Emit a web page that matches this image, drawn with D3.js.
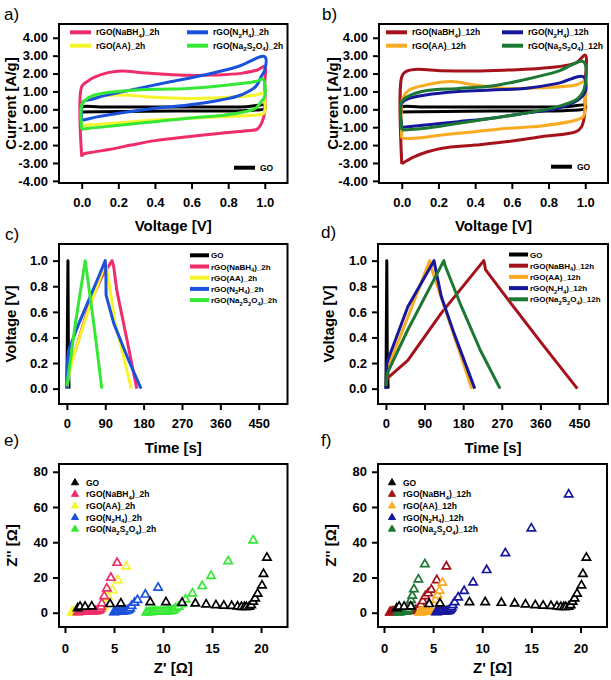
<!DOCTYPE html>
<html><head><meta charset="utf-8">
<script src="https://cdn.jsdelivr.net/npm/d3@7"></script>
<style>
body{margin:0;background:#fff}
svg{display:block}
text{font-family:"Liberation Sans",Arial,Helvetica,sans-serif}
</style>
</head><body>
<svg id="fig" width="611" height="680"></svg>
<script>
// ---------------- DATA ----------------
const labels2h  = ["GO","rGO(NaBH{4})_2h","rGO(AA)_2h","rGO(N{2}H{4})_2h","rGO(Na{2}S{2}O{4})_2h"];
const labels12h = ["GO","rGO(NaBH{4})_12h","rGO(AA)_12h","rGO(N{2}H{4})_12h","rGO(Na{2}S{2}O{4})_12h"];
const colors2h  = ["#000000","#ef2d68","#f6f52c","#1b52dc","#36e836"];
const colors12h = ["#000000","#a5121b","#f9ab22","#17179e","#1c7833"];

const cvTicksX = [0,0.2,0.4,0.6,0.8,1.0];
const cvTicksY = [-4,-3,-2,-1,0,1,2,3,4];
const gcdTicksX = [0,90,180,270,360,450];
const gcdTicksY = [0,0.2,0.4,0.6,0.8,1.0];
const eisTicksX = [0,5,10,15,20];
const eisTicksY = [0,20,40,60,80];

// CV loops [V, I]
const cvGO = [[0,-0.15],[0,0.12],[0.1,0.13],[0.5,0.13],[0.9,0.15],[1.0,0.22],[1.0,0.05],[0.9,-0.06],[0.5,-0.1],[0.1,-0.14],[0,-0.15]];
const cvNaBH4_2h = [[0,-2.64],[0,1.27],[0.03,1.55],[0.07,1.8],[0.145,2.05],[0.22,2.14],[0.33,2.05],[0.45,1.96],[0.58,1.9],[0.73,1.92],[0.87,2.01],[0.96,2.2],[1.0,2.4],[1.0,1.5],[0.995,-0.4],[0.96,-1.1],[0.9,-1.2],[0.76,-1.34],[0.58,-1.53],[0.4,-1.75],[0.27,-2.0],[0.15,-2.25],[0.07,-2.38],[0.01,-2.5],[0,-2.64]];
const cvAA_2h = [[0,-0.93],[0,0.15],[0.01,0.43],[0.07,0.71],[0.22,0.8],[0.4,0.67],[0.58,0.61],[0.76,0.65],[0.95,0.8],[0.99,0.89],[1.0,0.5],[0.995,-0.22],[0.95,-0.32],[0.76,-0.41],[0.58,-0.5],[0.4,-0.6],[0.22,-0.74],[0.04,-0.88],[0,-0.93]];
const cvN2H4_2h = [[0,-0.6],[0,0.2],[0.01,0.45],[0.05,0.55],[0.13,0.78],[0.31,1.17],[0.49,1.55],[0.67,1.92],[0.85,2.38],[1.0,2.94],[1.0,2.2],[0.98,1.82],[0.95,1.27],[0.87,0.8],[0.76,0.52],[0.58,0.24],[0.4,0.06],[0.22,-0.19],[0.09,-0.41],[0.01,-0.6],[0,-0.6]];
const cvNa2S2O4_2h = [[0,-1.12],[0,0.24],[0.02,0.52],[0.07,0.8],[0.22,1.02],[0.4,1.12],[0.58,1.17],[0.76,1.32],[0.95,1.55],[0.99,1.68],[1.0,0.71],[0.98,0.43],[0.95,0.06],[0.85,-0.22],[0.76,-0.35],[0.58,-0.5],[0.4,-0.69],[0.22,-0.88],[0.04,-1.06],[0,-1.12]];
const cvNaBH4_12h = [[0,-3.05],[0,1.82],[0.02,2.1],[0.07,2.23],[0.22,2.16],[0.4,2.14],[0.58,2.2],[0.76,2.29],[0.95,2.6],[1.0,3.03],[1.0,1.5],[0.995,-0.41],[0.98,-0.97],[0.95,-1.25],[0.76,-1.53],[0.58,-1.8],[0.4,-2.0],[0.22,-2.18],[0.07,-2.64],[0,-3.05]];
const cvAA_12h = [[0,-1.62],[0,0.4],[0.01,0.71],[0.04,1.08],[0.13,1.36],[0.27,1.55],[0.4,1.36],[0.58,1.17],[0.76,1.21],[0.95,1.36],[1.0,1.55],[1.0,0.5],[0.99,-0.4],[0.95,-0.6],[0.76,-0.93],[0.58,-1.06],[0.4,-1.25],[0.22,-1.43],[0.07,-1.62],[0,-1.62]];
const cvN2H4_12h = [[0,-1.0],[0,0.34],[0.04,0.61],[0.13,0.8],[0.31,0.99],[0.49,1.08],[0.67,1.17],[0.85,1.45],[0.99,1.82],[1.0,0.99],[0.96,0.52],[0.85,0.06],[0.67,-0.22],[0.49,-0.5],[0.31,-0.69],[0.13,-0.88],[0.01,-1.0],[0,-1.0]];
const cvNa2S2O4_12h = [[0,-1.15],[0,0.43],[0.04,0.75],[0.13,1.04],[0.31,1.17],[0.49,1.3],[0.67,1.66],[0.85,2.12],[0.99,2.66],[1.0,1.36],[0.96,0.61],[0.85,0.15],[0.67,-0.22],[0.49,-0.5],[0.31,-0.78],[0.13,-1.06],[0.01,-1.15],[0,-1.15]];

// GCD [t (s), V]
const gcdGO_2h = [[0,0],[2.5,1.0],[3.5,0.3],[5,0]];
const gcdNaBH4_2h = [[0,0.04],[5,0.17],[20,0.3],[51,0.64],[82,0.875],[106,1.0],[110,0.95],[117,0.77],[141,0.38],[164,0]];
const gcdAA_2h = [[0,0],[5,0.12],[20,0.3],[51,0.62],[82,0.9],[90,1.0],[94,0.92],[98,0.85],[113,0.51],[133,0.25],[151,0]];
const gcdN2H4_2h = [[0,0],[1,0.2],[4,0.3],[27,0.5],[51,0.69],[74,0.87],[90,1.0],[91.5,0.9],[92,0.73],[110,0.51],[145,0.22],[174,0]];
const gcdNa2S2O4_2h = [[0,0.02],[4,0.12],[20,0.51],[43,1.0],[63,0.51],[82,0]];
const gcdGO_12h = [[0,0],[2,1.0],[3,0.3],[5,0]];
const gcdNaBH4_12h = [[0,0.03],[3,0.08],[51,0.22],[129,0.59],[228,1.0],[230,0.97],[232,0.93],[286,0.69],[364,0.35],[446,0]];
const gcdAA_12h = [[0,0.02],[3,0.15],[50,0.55],[102,1.0],[105,0.95],[150,0.5],[200,0]];
const gcdN2H4_12h = [[0,0],[2,0.2],[51,0.64],[112,1.0],[116,0.93],[129,0.72],[160,0.42],[207,0]];
const gcdNa2S2O4_12h = [[0,0.02],[3,0.12],[51,0.46],[135,1.0],[138,0.96],[176,0.64],[220,0.3],[266,0]];

// EIS [Z', Z'']
const eisGO = [[1.3,2.5],[1.54,3.4],[2.05,3.4],[2.73,3.6],[4.6,4.9],[5.7,5.3],[8.7,6.0],[10.3,6.0],[11.95,5.6],[13.3,5.2],[14.4,4.7],[15.4,4.3],[16.2,4.0],[17.0,3.8],[17.6,3.5],[18.0,3.3],[18.3,3.2],[18.5,3.2],[18.8,3.4],[19.0,4.3],[19.2,6.2],[19.4,8.1],[19.65,10.8],[20.1,15.5],[20.25,22.0],[20.6,31.2]];
const eisNaBH4_2h = [[1.3,0.3],[1.45,0.4],[1.6,0.5],[1.75,0.5],[1.9,0.6],[2.05,0.6],[2.2,0.6],[2.35,0.7],[2.5,0.7],[2.65,0.7],[2.8,0.8],[2.95,0.8],[3.1,0.9],[3.25,1.0],[3.4,1.2],[3.5,1.6],[3.6,2.3],[3.68,3.4],[3.76,5.3],[4.0,9.4],[4.27,13.8],[4.68,19.8],[5.32,28.3]];
const eisAA_2h = [[0.7,0.2],[0.8,0.3],[0.9,0.4],[1.0,0.5],[1.1,0.5],[1.2,0.6],[1.35,0.6],[1.5,0.7],[1.7,0.7],[1.9,0.8],[2.1,0.8],[2.3,0.9],[2.5,0.9],[2.7,1.0],[2.9,1.0],[3.1,1.1],[3.3,1.3],[3.5,1.6],[3.7,2.2],[3.85,3.0],[3.95,4.0],[4.1,5.5],[4.37,9.0],[4.85,12.8],[5.39,18.5],[6.25,26.2]];
const eisN2H4_2h = [[5.0,0.3],[5.1,0.4],[5.2,0.5],[5.3,0.5],[5.45,0.6],[5.6,0.6],[5.75,0.7],[5.9,0.8],[6.05,0.9],[6.2,1.0],[6.35,1.2],[6.5,1.6],[6.65,2.4],[6.8,3.8],[7.1,5.7],[7.4,7.2],[8.2,10.3],[9.5,14.2]];
const eisNa2S2O4_2h = [[8.3,0.2],[8.5,0.3],[8.7,0.4],[8.9,0.4],[9.1,0.5],[9.3,0.5],[9.5,0.5],[9.7,0.6],[9.9,0.6],[10.1,0.6],[10.3,0.7],[10.5,0.8],[10.7,0.9],[10.9,1.1],[11.1,1.6],[11.3,2.5],[11.6,3.4],[11.95,4.9],[12.3,7.5],[13.0,10.9],[14.0,15.1],[14.9,20.9],[16.65,29.2],[19.2,41.0]];
const eisNaBH4_12h = [[0.6,0.2],[0.7,0.3],[0.8,0.4],[0.9,0.5],[1.0,0.5],[1.15,0.6],[1.3,0.7],[1.45,0.7],[1.6,0.8],[1.8,0.8],[2.0,0.9],[2.2,0.9],[2.4,1.0],[2.6,1.0],[2.8,1.1],[3.0,1.2],[3.2,1.4],[3.4,1.8],[3.55,2.5],[3.76,4.5],[3.95,6.6],[4.2,9.4],[4.5,11.0],[4.82,13.1],[5.38,18.5],[6.35,26.2]];
const eisAA_12h = [[3.6,0.2],[3.7,0.3],[3.8,0.4],[3.9,0.4],[4.0,0.5],[4.1,0.5],[4.2,0.6],[4.3,0.6],[4.4,0.7],[4.5,0.8],[4.6,1.0],[4.7,1.3],[4.8,1.8],[4.9,2.6],[5.0,3.6],[5.1,5.0],[5.25,7.2],[5.45,10.0],[5.65,12.5],[5.95,17.0]];
const eisN2H4_12h = [[5.3,0.3],[5.45,0.4],[5.6,0.5],[5.75,0.5],[5.9,0.6],[6.05,0.6],[6.2,0.7],[6.35,0.8],[6.5,0.9],[6.6,1.1],[6.7,1.5],[6.8,2.1],[6.9,3.0],[7.0,4.3],[7.2,6.0],[7.55,8.7],[8.16,12.3],[9.07,17.2],[10.45,24.2],[12.35,33.8],[15.0,47.8],[18.8,67.1]];
const eisNa2S2O4_12h = [[1.4,0.2],[1.5,0.3],[1.6,0.4],[1.7,0.4],[1.8,0.5],[1.9,0.6],[2.0,0.6],[2.1,0.7],[2.2,0.8],[2.3,1.0],[2.4,1.4],[2.5,2.2],[2.58,3.4],[2.65,5.0],[2.75,7.2],[2.88,9.6],[3.05,13.3],[3.5,18.9],[4.16,27.5]];

// ---------------- DRAWING ----------------
const svg = d3.select("#fig");
const FONT = '"Liberation Sans",Arial,Helvetica,sans-serif';

function richText(t, str, size){
  const parts = str.split(/(\{[^}]*\})/).filter(s => s.length);
  let shifted = false;
  parts.forEach(p => {
    if (p[0] === "{") {
      t.append("tspan").attr("font-size", size*0.72).attr("dy", size*0.3).text(p.slice(1,-1));
      shifted = true;
    } else {
      const ts = t.append("tspan").attr("font-size", size).text(p);
      if (shifted) { ts.attr("dy", -size*0.3); shifted = false; }
    }
  });
}

function makePanel(cfg){
  const g = svg.append("g");
  const x = d3.scaleLinear().domain(cfg.xd).range([cfg.x0, cfg.x1]);
  const y = d3.scaleLinear().domain(cfg.yd).range([cfg.y1, cfg.y0]);
  const ax = g.append("g").attr("transform", `translate(0,${cfg.y1})`)
    .call(d3.axisBottom(x).tickValues(cfg.tx).tickSize(6).tickSizeOuter(0).tickPadding(cfg.xpad).tickFormat(cfg.fx));
  const ay = g.append("g").attr("transform", `translate(${cfg.x0},0)`)
    .call(d3.axisLeft(y).tickValues(cfg.ty).tickSize(6).tickSizeOuter(0).tickPadding(5).tickFormat(cfg.fy));
  [ax, ay].forEach(a => {
    a.select(".domain").remove();
    a.selectAll("line").attr("stroke", "#000").attr("stroke-width", 2);
    a.selectAll("text").attr("font-family", FONT).attr("font-size", 13).attr("font-weight", "bold").attr("fill", "#000");
  });
  g.append("text").attr("x", (cfg.x0+cfg.x1)/2).attr("y", cfg.xtY).attr("text-anchor", "middle")
    .attr("font-size", 15).attr("font-weight", "bold").text(cfg.xt);
  g.append("text").attr("transform", `translate(${cfg.ytX},${(cfg.y0+cfg.y1)/2}) rotate(-90)`)
    .attr("text-anchor", "middle").attr("font-size", 15).attr("font-weight", "bold").text(cfg.yt);
  g.append("text").attr("x", cfg.lx).attr("y", cfg.ly).attr("font-size", 17).text(cfg.letter);
  const plot = g.append("g");
  g.append("rect").attr("x", cfg.x0).attr("y", cfg.y0).attr("width", cfg.x1-cfg.x0).attr("height", cfg.y1-cfg.y0)
    .attr("fill", "none").attr("stroke", "#000").attr("stroke-width", 2);
  return {g, plot, x, y};
}

const fmtX1 = d => d3.format(".1f")(d);
const fmtY2 = d => d3.format(".2f")(d).replace("−", "-");
const fmtI = d => String(d);

// ---- CV panels ----
function cvPanel(cfg, series, labels, colors, legendPos, goPos){
  const p = makePanel(cfg);
  const line = d3.line().x(d => p.x(d[0])).y(d => p.y(d[1])).curve(d3.curveCatmullRom.alpha(0.5));
  series.forEach((s, i) => {
    p.plot.append("path").datum(s).attr("d", line).attr("fill", "none")
      .attr("stroke", colors[i]).attr("stroke-width", 3).attr("stroke-linejoin", "round");
  });
  legendPos.forEach((lp, k) => {
    const i = k + 1;
    p.g.append("line").attr("x1", lp[0]).attr("x2", lp[0]+21).attr("y1", lp[1]).attr("y2", lp[1])
      .attr("stroke", colors[i]).attr("stroke-width", 4);
    const t = p.g.append("text").attr("x", lp[0]+26).attr("y", lp[1]+3).attr("font-weight", "bold");
    richText(t, labels[i], 8.5);
  });
  p.g.append("line").attr("x1", goPos[0]).attr("x2", goPos[0]+21).attr("y1", goPos[1]).attr("y2", goPos[1])
    .attr("stroke", colors[0]).attr("stroke-width", 4);
  const tg = p.g.append("text").attr("x", goPos[0]+26).attr("y", goPos[1]+3).attr("font-weight", "bold");
  richText(tg, labels[0], 8.5);
}

const cvA = {x0:59, x1:287.5, y0:24, y1:183, xd:[-0.124,1.124], yd:[-4.12,4.77], tx:cvTicksX, ty:cvTicksY,
  fx:fmtX1, fy:fmtY2, xpad:9, xt:"Voltage [V]", xtY:231, yt:"Current [A/g]", ytX:16, letter:"a)", lx:4, ly:20};
const cvB = Object.assign({}, cvA, {x0:379, x1:608, ytX:338, letter:"b)", lx:322});

cvPanel(cvA, [cvGO, cvNaBH4_2h, cvAA_2h, cvN2H4_2h, cvNa2S2O4_2h], labels2h, colors2h,
  [[70,32.3],[70,45.7],[187,32.3],[187,45.7]], [234,167.7]);
cvPanel(cvB, [cvGO, cvNaBH4_12h, cvAA_12h, cvN2H4_12h, cvNa2S2O4_12h], labels12h, colors12h,
  [[386,32.3],[386,45.7],[502,32.3],[502,45.7]], [551,166.7]);

// ---- GCD panels ----
function gcdPanel(cfg, series, labels, colors, lx, ly0){
  const p = makePanel(cfg);
  const line = d3.line().x(d => p.x(d[0])).y(d => p.y(d[1]));
  series.forEach((s, i) => {
    p.plot.append("path").datum(s).attr("d", line).attr("fill", "none")
      .attr("stroke", colors[i]).attr("stroke-width", 3).attr("stroke-linejoin", "round");
  });
  labels.forEach((lab, i) => {
    const yy = ly0 + i*11.2;
    p.g.append("line").attr("x1", lx).attr("x2", lx+19).attr("y1", yy).attr("y2", yy)
      .attr("stroke", colors[i]).attr("stroke-width", 4);
    const t = p.g.append("text").attr("x", lx+21).attr("y", yy+3).attr("font-weight", "bold");
    richText(t, lab, 8);
  });
}
const gcdC = {x0:59, x1:287.5, y0:244, y1:404, xd:[-18.5,517.5], yd:[-0.12,1.13], tx:gcdTicksX, ty:gcdTicksY,
  fx:fmtI, fy:fmtX1, xpad:9, xt:"Time [s]", xtY:453, yt:"Voltage [V]", ytX:16, letter:"c)", lx:5, ly:240};
const gcdD = Object.assign({}, gcdC, {x0:378, x1:608, ytX:334, letter:"d)", lx:321, ly:238});
gcdPanel(gcdC, [gcdGO_2h, gcdNaBH4_2h, gcdAA_2h, gcdN2H4_2h, gcdNa2S2O4_2h], labels2h, colors2h, 190, 255.3);
gcdPanel(gcdD, [gcdGO_12h, gcdNaBH4_12h, gcdAA_12h, gcdN2H4_12h, gcdNa2S2O4_12h], labels12h, colors12h, 509, 254.5);

// ---- EIS panels ----
function eisPanel(cfg, series, labels, colors, order, lx, ly0){
  const p = makePanel(cfg);
  const sym = d3.symbol().type(d3.symbolTriangle).size(30);
  const symL = d3.symbol().type(d3.symbolTriangle).size(22);
  order.forEach(i => {
    p.plot.selectAll(null).data(series[i]).join("path")
      .attr("d", sym).attr("transform", d => `translate(${p.x(d[0])},${p.y(d[1])})`)
      .attr("fill", "#fff").attr("stroke", colors[i]).attr("stroke-width", 1.7);
  });
  labels.forEach((lab, i) => {
    const yy = ly0 + i*11.6;
    p.g.append("path").attr("d", symL).attr("transform", `translate(${lx},${yy})`)
      .attr("fill", colors[i]).attr("stroke", colors[i]).attr("stroke-width", 1);
    const t = p.g.append("text").attr("x", lx+11).attr("y", yy+3).attr("font-weight", "bold");
    richText(t, lab, 8.5);
  });
}
const eisE = {x0:59, x1:287.5, y0:464, y1:627, xd:[-0.61,22.7], yd:[-8.1,84.4], tx:eisTicksX, ty:eisTicksY,
  fx:fmtI, fy:fmtI, xpad:11, xt:"Z' [Ω]", xtY:673, yt:"Z'' [Ω]", ytX:17, letter:"e)", lx:4, ly:446};
const eisF = Object.assign({}, eisE, {x0:378, x1:607, ytX:336, letter:"f)", lx:321});
eisPanel(eisE, [eisGO, eisNaBH4_2h, eisAA_2h, eisN2H4_2h, eisNa2S2O4_2h], labels2h, colors2h, [2,1,3,4,0], 75, 482.7);
eisPanel(eisF, [eisGO, eisNaBH4_12h, eisAA_12h, eisN2H4_12h, eisNa2S2O4_12h], labels12h, colors12h, [1,2,3,4,0], 392, 482.7);
</script>
</body></html>
